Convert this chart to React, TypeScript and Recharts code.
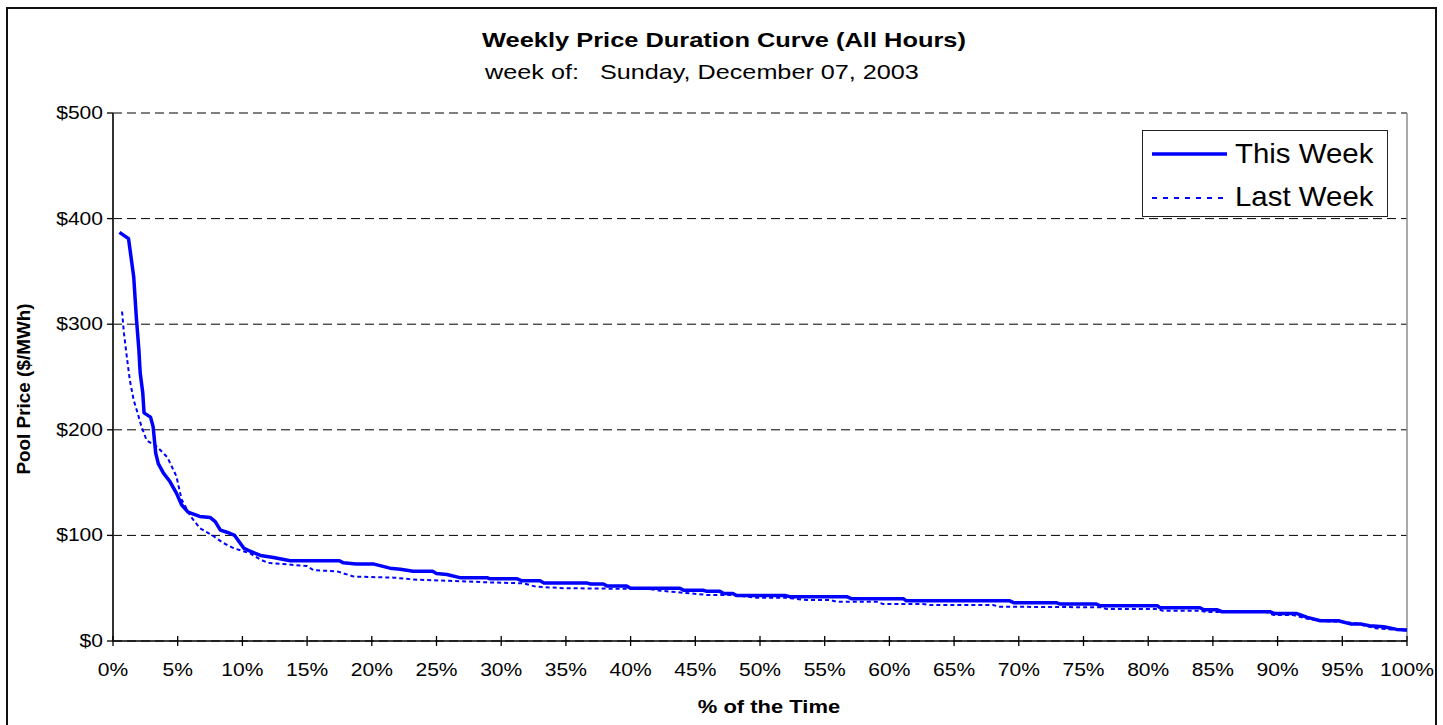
import React from "react"
import {
    LineChart,
    Line,
    XAxis,
    YAxis,
    CartesianGrid,
    ReferenceLine,
    Legend,
} from "recharts"

// % of the time (x) and pool price in $/MWh (y)
const thisWeekPct = [
    0.5, 1.2, 1.6, 1.8, 2.0, 2.1, 2.3, 2.4, 2.9, 3.1, 3.3, 3.5, 3.9, 4.4, 4.9, 5.3, 5.8, 6.7, 7.5, 7.9,
    8.3, 8.8, 9.4, 10.1, 10.6, 11.4, 12.4, 13.7, 17.5, 17.8, 18.8, 20.1, 21.4, 22.2, 23.2, 24.7, 25.0,
    25.8, 26.8, 28.9, 29.1, 31.2, 31.6, 33.0, 33.3, 36.6, 36.9, 37.9, 38.2, 39.7, 40.0, 43.8, 44.1,
    45.6, 45.9, 46.9, 47.2, 47.9, 48.2, 52.0, 52.3, 56.7, 57.1, 61.1, 61.3, 69.3, 69.6, 72.9, 73.2,
    76.0, 76.3, 80.7, 80.9, 84.0, 84.3, 85.3, 85.7, 89.4, 89.8, 91.5, 92.3, 93.3, 94.7, 95.7, 96.5,
    97.1, 98.2, 99.2, 100,
]
const thisWeekPrice = [
    387, 381, 345, 307, 276, 254, 235, 216, 212, 203, 178, 168, 159, 151, 140, 129, 122, 118, 117, 113,
    105, 103, 100, 88, 85, 81, 79, 76, 76, 74, 73, 73, 69, 68, 66, 66, 64,
    63, 60, 60, 59, 59, 57, 57, 55, 55, 54, 54, 52, 52, 50, 50, 48,
    48, 47, 47, 45, 45, 43, 43, 42, 42, 40, 40, 38, 38, 36.3, 36.3, 35,
    35, 33.4, 33.4, 31.5, 31.5, 29.6, 29.6, 27.7, 27.7, 26, 26, 22.4, 19.2, 19.2, 16, 16,
    14.5, 13.5, 11, 10.4,
]

const lastWeekPct = [
    0.7, 0.85, 1.1, 1.3, 1.6, 1.9, 2.2, 2.6, 3.4, 4.2, 4.9, 5.3, 6.0, 6.7, 7.8, 8.5, 9.3, 10.6, 11.4,
    12.0, 15.0, 15.5, 17.3, 18.6, 21.7, 23.5, 26.0, 29.1, 31.7, 32.7, 34.8, 41.5, 42.3, 44.1, 45.9,
    47.9, 49.7, 52.0, 53.6, 55.4, 55.9, 59.0, 59.5, 62.6, 63.1, 68.0, 68.5, 76.3, 76.8, 80.7, 81.1,
    84.0, 84.5, 89.1, 89.7, 91.2, 92.3, 93.5, 95.8, 97.6, 100,
]
const lastWeekPrice = [
    312, 291, 266, 247, 228, 216, 203, 190, 184, 174, 156, 134, 118, 107, 99, 93, 88, 83, 77,
    74, 71, 67, 66, 61, 60, 58, 57, 55.5, 54.6, 51.4, 50, 49.2, 47.6, 45.7, 43.6,
    43.6, 41, 41, 38.8, 38.8, 37.2, 37.2, 35, 35, 34.1, 34.1, 32.5, 31.9, 30.3, 30.3, 28.7,
    28.7, 27.5, 27.5, 24.6, 24.6, 21, 19, 17.3, 12, 9.8,
]

const xTicks = [0, 5, 10, 15, 20, 25, 30, 35, 40, 45, 50, 55, 60, 65, 70, 75, 80, 85, 90, 95, 100]
const yTicks = [0, 100, 200, 300, 400, 500]

const thisWeek = thisWeekPct.map((pct, i) => ({ pct, price: thisWeekPrice[i] }))
const lastWeek = lastWeekPct.map((pct, i) => ({ pct, price: lastWeekPrice[i] }))

const FONT = "'Liberation Sans', Arial, sans-serif"
const BLUE = "#0000ff"

function XTick({ x, y, payload }: any) {
    return (
        <g>
            <line x1={x} x2={x} y1={y - 10} y2={y} stroke="#000" strokeWidth={1.3} />
            <text
                transform={`translate(${x},${y + 30}) scale(1.17,1)`}
                textAnchor="middle"
                fontFamily={FONT}
                fontSize={18}
                fill="#000"
            >
                {payload.value}%
            </text>
        </g>
    )
}

function YTick({ x, y, payload }: any) {
    return (
        <text
            transform={`translate(${x},${y + 6}) scale(1.17,1)`}
            textAnchor="end"
            fontFamily={FONT}
            fontSize={18}
            fill="#000"
        >
            ${payload.value}
        </text>
    )
}

function LegendBox() {
    return (
        <div style={{ width: 246, height: 87, border: "1.5px solid #222", background: "#fff", boxSizing: "border-box" }}>
            <svg width={244} height={85}>
                <line x1={9} x2={84} y1={23} y2={23} stroke={BLUE} strokeWidth={3.5} />
                <text transform="translate(92,32) scale(1.09,1)" fontFamily={FONT} fontSize={27} fill="#000">
                    This Week
                </text>
                <line x1={9} x2={84} y1={67} y2={67} stroke={BLUE} strokeWidth={2} strokeDasharray="5 6" />
                <text transform="translate(92,75) scale(1.09,1)" fontFamily={FONT} fontSize={27} fill="#000">
                    Last Week
                </text>
            </svg>
        </div>
    )
}

const centered = (cx: number, cy: number, sx: number): React.CSSProperties => ({
    position: "absolute",
    left: cx,
    top: cy,
    transform: `translate(-50%,-50%) scaleX(${sx})`,
    whiteSpace: "pre",
    fontFamily: FONT,
    lineHeight: 1,
    color: "#000",
})

export default function App() {
    return (
        <div style={{ position: "absolute", left: 0, top: 0, width: 1443, height: 725, overflow: "hidden", background: "#fff" }}>
            <div
                style={{
                    position: "absolute",
                    left: 6,
                    top: 7,
                    width: 1431,
                    height: 740,
                    border: "2px solid #111",
                    boxSizing: "border-box",
                }}
            />
            <div style={{ ...centered(724, 39, 1.21), fontSize: 21, fontWeight: "bold" }}>
                Weekly Price Duration Curve (All Hours)
            </div>
            <div style={{ ...centered(702, 71, 1.2), fontSize: 21 }}>week of:   Sunday, December 07, 2003</div>
            <div style={{ ...centered(24, 389, 1), fontSize: 18, fontWeight: "bold", transform: "translate(-50%,-50%) rotate(-90deg) scaleX(1.05)" }}>
                Pool Price ($/MWh)
            </div>
            <div style={{ ...centered(769, 707, 1.22), fontSize: 18, fontWeight: "bold" }}>% of the Time</div>

            <div style={{ position: "absolute", left: 0, top: 0 }}>
                <LineChart width={1443} height={725} margin={{ top: 113, right: 36, left: 53, bottom: 54 }}>
                    <CartesianGrid vertical={false} stroke="#000" strokeDasharray="9 5" />
                    <XAxis
                        dataKey="pct"
                        type="number"
                        domain={[0, 100]}
                        ticks={xTicks}
                        interval={0}
                        height={30}
                        tickSize={5}
                        tickMargin={0}
                        tickLine={false}
                        axisLine={{ stroke: "#000", strokeWidth: 1.5 }}
                        tick={(p: any) => <XTick {...p} />}
                        allowDuplicatedCategory={false}
                    />
                    <YAxis
                        type="number"
                        domain={[0, 500]}
                        ticks={yTicks}
                        interval={0}
                        width={60}
                        tickSize={6}
                        tickMargin={4}
                        tickLine={{ stroke: "#000", strokeWidth: 1.3 }}
                        axisLine={{ stroke: "#333", strokeWidth: 2 }}
                        tick={(p: any) => <YTick {...p} />}
                    />
                    <ReferenceLine x={100} stroke="#8c8c8c" strokeWidth={1.5} />
                    <Legend
                        layout="horizontal"
                        verticalAlign="middle"
                        align="center"
                        content={() => <LegendBox />}
                        wrapperStyle={{ position: "absolute", left: 1142, top: 130, width: 246, height: 87 }}
                    />
                    <Line
                        data={lastWeek}
                        dataKey="price"
                        name="Last Week"
                        type="linear"
                        stroke={BLUE}
                        strokeWidth={2}
                        strokeDasharray="4 3"
                        dot={false}
                        activeDot={false}
                        isAnimationActive={false}
                    />
                    <Line
                        data={thisWeek}
                        dataKey="price"
                        name="This Week"
                        type="linear"
                        stroke={BLUE}
                        strokeWidth={3.5}
                        strokeLinejoin="round"
                        dot={false}
                        activeDot={false}
                        isAnimationActive={false}
                    />
                </LineChart>
            </div>
        </div>
    )
}
